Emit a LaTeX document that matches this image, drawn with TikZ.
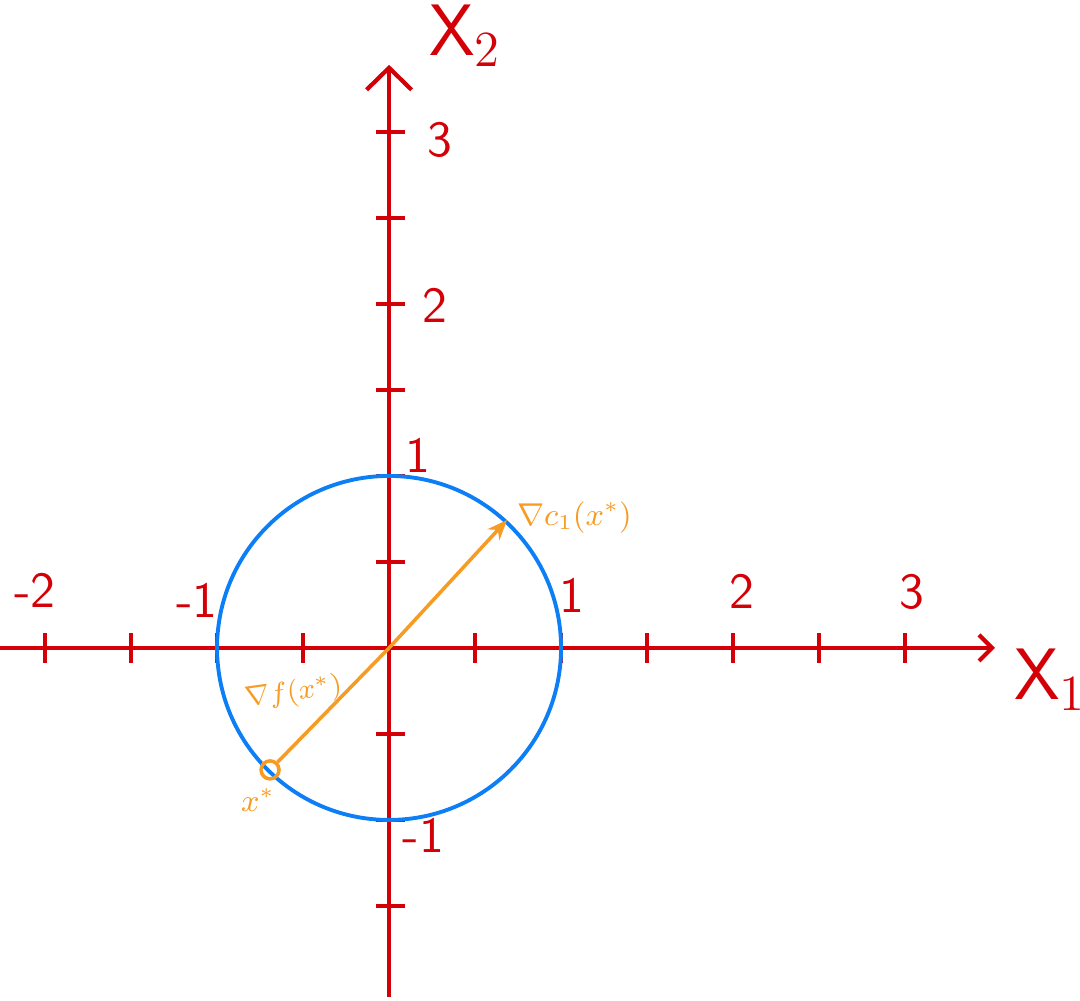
\documentclass[tikz,border=0pt]{standalone}
\usepackage{amsmath}
\usepackage{tikz}
\usetikzlibrary{arrows.meta}
\definecolor{axis red}{RGB}{212,0,8}
\definecolor{circle blue}{RGB}{12,126,246}
\definecolor{grad orange}{RGB}{246,156,36}
\tikzset{axis/.style={axis red, line width=1.2pt}}
\tikzset{tickmark/.style={axis red, line width=1.2pt}}
\tikzset{ticklabel/.style={axis red, font=\sffamily\Large}}
\tikzset{axislabel/.style={axis red, font=\sffamily\huge, inner sep=1pt}}
\tikzset{constraint/.style={circle blue, line width=1.1pt}}
\tikzset{gradient/.style={grad orange, line width=1pt}}
\tikzset{gradlabel/.style={grad orange, font=\sffamily\small, inner sep=1pt}}

\begin{document}
\begin{tikzpicture}[x=1.72cm, y=1.72cm]
                \useasboundingbox (-2.262, -2.047) rectangle (4.017, 3.767);
                % axes
                \coordinate (O) at (0, 0);
                \coordinate (xstart) at (-2.262, 0);
                \coordinate (xend) at (3.523, 0);
                \coordinate (ystart) at (0, -2.029);
                \coordinate (yend) at (0, 3.39);
                \draw[axis, -{Straight Barb[length=0.13cm, width=0.26cm, line width=1.2pt]}] (xstart) -- (xend);
                \draw[axis, -{Straight Barb[length=0.22cm, width=0.45cm, line width=1.2pt]}] (ystart) -- (yend);
                \foreach \t in {-2, -1.5, -1, -0.5, 0.5, 1, 1.5, 2, 2.5, 3}
                    \draw[tickmark] (\t, -0.087) -- (\t, 0.087);
                \foreach \t in {-1.5, -1, -0.5, 0.5, 1, 1.5, 2, 2.5, 3}
                    \draw[tickmark] (-0.075, \t) -- (0.09, \t);
                \node[ticklabel] (xm2) at (-2.058, 0.337) {-2};
                \node[ticklabel] (xm1) at (-1.116, 0.279) {-1};
                \node[ticklabel] (xp1) at (1.064, 0.308) {1};
                \node[ticklabel] (xp2) at (2.052, 0.326) {2};
                \node[ticklabel] (xp3) at (3.041, 0.326) {3};
                \node[ticklabel] (yp1) at (0.169, 1.122) {1};
                \node[ticklabel] (yp2) at (0.267, 1.994) {2};
                \node[ticklabel] (yp3) at (0.297, 2.953) {3};
                \node[ticklabel] (ym1) at (0.2, -1.087) {-1};
                \node[axislabel] (xtwo) at (0.442, 3.56) {X$_2$};
                \node[axislabel] (xone) at (3.843, -0.186) {X$_1$};
                % constraint circle
                \draw[constraint] (O) circle (1);
                % gradients
                \coordinate (c1) at (0.686, 0.744);
                \node[draw=grad orange, line width=1pt, circle, inner sep=0pt, minimum size=0.18cm] (xs) at (-0.692, -0.709) {};
                \draw[gradient, -{Stealth[length=0.2cm, width=0.16cm]}] (O) -- (c1);
                \draw[gradient] (O) -- (xs);
                \node[gradlabel, anchor=west] (c1lab) at (0.72, 0.756) {$\nabla c_1(x^{*})$};
                \node[gradlabel, anchor=east, font=\sffamily\footnotesize, rotate=8] (flab) at (-0.25, -0.22) {$\nabla f(x^{*})$};
                \node[gradlabel] (xslab) at (-0.762, -0.884) {$x^{*}$};
            \end{tikzpicture}
\end{document}
